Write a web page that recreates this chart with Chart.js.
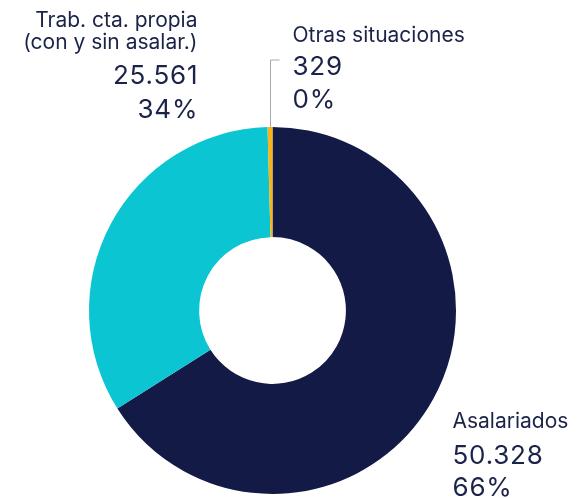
<!DOCTYPE html>
<html>
<head>
<meta charset="utf-8">
<script src="https://cdn.jsdelivr.net/npm/chart.js@4"></script>
<style>
  html, body { margin: 0; padding: 0; background: #fff; }
  #wrap { width: 587px; height: 498px; position: relative; }
</style>
</head>
<body>
<div id="wrap"><canvas id="chart"></canvas></div>
<script>
// data
let categories = ['Asalariados', ['Trab. cta. propia', '(con y sin asalar.)'], 'Otras situaciones'];
let values = [50328, 25561, 329];
let colors = ['#121a45', '#0bc6d2', '#f6b41c'];

const textColor = '#1b2349';
const fontFam = 'Inter, "Noto Sans", sans-serif';

// label placement, relative to the doughnut centre (px)
let labelPos = [
    {x: 180, y: 117, align: 'left', gaps: [36, 32]},
    {x: -75, y: -284, align: 'right', gaps: [22, 35, 34]},
    {x: 20, y: -269, align: 'left', gaps: [33, 33], leader: true}
];

function fmt(n){
    return String(n).replace(/\B(?=(\d{3})+(?!\d))/g, '.');
}

const total = values.reduce((a, b) => a + b, 0);

const labelPlugin = {
    id: 'sliceLabels',
    afterDraw(chart) {
        let ctx = chart.ctx;
        let arcs = chart.getDatasetMeta(0).data;
        ctx.save();
        arcs.forEach((arc, i) => {
            let p = arc.getProps(['x', 'y', 'startAngle', 'endAngle', 'outerRadius'], true);
            let lp = labelPos[i];
            let names = Array.isArray(categories[i]) ? categories[i] : [categories[i]];
            let lines = names.map(t => ({t: t, size: 21, sp: 0}));
            lines.push({t: fmt(values[i]), size: 26, sp: 0.8});
            lines.push({t: Math.round(values[i] / total * 100) + '%', size: 26, sp: 0.8});
            ctx.fillStyle = textColor;
            ctx.textAlign = lp.align;
            ctx.textBaseline = 'alphabetic';
            let y = p.y + lp.y;
            lines.forEach((l, k) => {
                if (k > 0) y += lp.gaps[k - 1];
                ctx.font = l.size + 'px ' + fontFam;
                ctx.letterSpacing = l.sp + 'px';
                let x = p.x + lp.x + (lp.align === 'right' ? l.sp : 0);
                ctx.fillText(l.t, x, y);
            });
            ctx.letterSpacing = '0px';
            if (lp.leader) {
                let mid = (p.startAngle + p.endAngle) / 2;
                let ax = p.x + Math.cos(mid) * p.outerRadius;
                let ay = p.y + Math.sin(mid) * p.outerRadius;
                let topY = p.y + lp.y + 18;
                ctx.strokeStyle = '#a9a9a9';
                ctx.lineWidth = 1;
                ctx.beginPath();
                ctx.moveTo(Math.round(ax) + 0.5, ay);
                ctx.lineTo(Math.round(ax) + 0.5, topY + 0.5);
                ctx.lineTo(Math.round(ax) + 9.5, topY + 0.5);
                ctx.stroke();
            }
        });
        ctx.restore();
    }
};

new Chart(document.getElementById('chart'), {
    type: 'doughnut',
    data: {
        labels: categories.map(c => Array.isArray(c) ? c.join(' ') : c),
        datasets: [{
            data: values,
            backgroundColor: colors,
            borderWidth: 0
        }]
    },
    options: {
        responsive: true,
        maintainAspectRatio: false,
        animation: false,
        cutout: '40%',
        layout: { padding: { top: 127, bottom: 4, left: 0, right: 42 } },
        plugins: {
            legend: { display: false },
            tooltip: { enabled: false }
        }
    },
    plugins: [labelPlugin]
});
</script>
</body>
</html>
